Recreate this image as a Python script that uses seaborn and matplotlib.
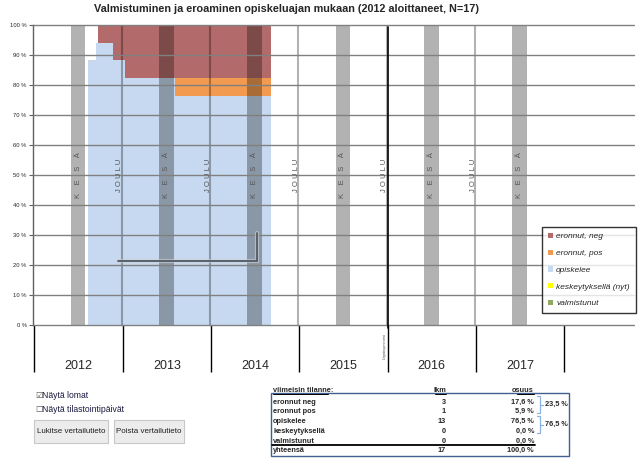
import numpy as np
import pandas as pd
import matplotlib
matplotlib.use('Agg')
import matplotlib.pyplot as plt
from matplotlib.patches import Patch, Rectangle
from matplotlib.lines import Line2D
import seaborn as sns

# --- data (luettu kuvasta) ---
N = 17
jakso_alku = ['2012-08-09', '2012-09-14', '2012-09-21', '2012-11-22', '2013-01-10', '2013-08-05']
jakso_loppu = '2014-09-05'
valmistunut = [0, 0, 0, 0, 0, 0]
keskeytyksella = [0, 0, 0, 0, 0, 0]
opiskelee = [15, 16, 16, 15, 14, 13]
eronnut_pos = [0, 0, 0, 0, 0, 1]
eronnut_neg = [0, 0, 1, 2, 3, 3]

vuodet = [2012, 2013, 2014, 2015, 2016, 2017]
kesa_alku = '06-01'
kesa_loppu = '07-31'
lapaisyminimi = '2016-01-01'
y_arvot = list(range(0, 101, 10))

sarjat = ['valmistunut', 'keskeytyksellä (nyt)', 'opiskelee', 'eronnut, pos', 'eronnut, neg']
varit = ['#8faa5c', '#ffff00', '#c6d9f0', '#f29b50', '#b36a6a']

sns.set_theme(style='white')
plt.rcParams['font.family'] = ['Liberation Sans', 'DejaVu Sans']

W, H = 638, 469


def fx(x):
    return x / W


def fy(y):
    return 1 - y / H


def dec_year(s):
    t = pd.Timestamp(s)
    alku = pd.Timestamp(year=t.year, month=1, day=1)
    return t.year + (t - alku).days / (366 if t.is_leap_year else 365)


fig = plt.figure(figsize=(W / 100, H / 100), dpi=100)
ax = fig.add_axes([fx(33), fy(325), 601 / W, 300 / H])

# pinottu porrasalue
reunat = [dec_year(d) for d in jakso_alku] + [dec_year(jakso_loppu)]
arvot = [valmistunut, keskeytyksella, opiskelee, eronnut_pos, eronnut_neg]
pohja = np.zeros(len(jakso_alku))
for vals, col in zip(arvot, varit):
    pct = np.array(vals) / N * 100
    y1 = np.append(pohja, pohja[-1])
    y2 = np.append(pohja + pct, (pohja + pct)[-1])
    ax.fill_between(reunat, y1, y2, step='post', color=col, lw=0, zorder=1)
    pohja = pohja + pct

# kesät ja joulut
for v in vuodet:
    a, b = dec_year(f'{v}-{kesa_alku}'), dec_year(f'{v}-{kesa_loppu}')
    ax.axvspan(a, b, color='black', alpha=0.3, lw=0, zorder=2)
    ax.text((a + b) / 2, 50, 'K    E    S    Ä', rotation=90, ha='center', va='center',
            fontsize=5.5, color='#555555', zorder=3)
for v in vuodet[1:]:
    ax.axvline(v - 0.008, color='black', alpha=0.3, lw=1.5, zorder=2)
    ax.text(v - 0.03, 50, 'J O U L U', rotation=90, ha='center', va='center',
            fontsize=5.5, color='#555555', zorder=3)

# läpäisyminimi
lx = dec_year(lapaisyminimi) + 0.006
ax.plot([lx, lx], [99.3, -1], color='black', lw=1.2, zorder=4, clip_on=False)
ax.text(lx - 0.035, -7, 'Läpäisyminimi', rotation=90, ha='center', va='center',
        fontsize=3, color='#555555', clip_on=False)

# varjoviiva
ax.plot([0.1414, 0.3727, 0.3727], [0.213, 0.213, 0.307], transform=ax.transAxes,
        color='#d0d0d0', lw=3, alpha=0.6, zorder=3, solid_joinstyle='miter')
ax.plot([0.1414, 0.3727, 0.3727], [0.213, 0.213, 0.307], transform=ax.transAxes,
        color='#505a66', lw=1.3, zorder=3, solid_joinstyle='miter')

# akselit
ax.set_xlim(2012 + (33 - 34.3) / 88.3, 2012 + (634 - 34.3) / 88.3)
ax.set_ylim(0, 100)
ax.set_xticks(vuodet + [vuodet[-1] + 1])
ax.set_xticklabels([])
ax.set_xticks([v + 0.5 for v in vuodet], minor=True)
ax.set_xticklabels([str(v) for v in vuodet], minor=True, fontsize=9)
ax.tick_params(axis='x', which='major', length=34, width=1, color='black', direction='out', bottom=True)
ax.tick_params(axis='x', which='minor', length=0, pad=25, bottom=True)
ax.set_yticks(y_arvot)
ax.set_yticklabels([f'{t} %' for t in y_arvot], fontsize=4.2)
ax.tick_params(axis='y', length=3, width=0.8, color='#606060', pad=1.5, left=True)
ax.yaxis.grid(True, color='#808080', lw=1, clip_on=False)
ax.xaxis.grid(False)
ax.set_axisbelow(False)
for s in ['top', 'right', 'bottom']:
    ax.spines[s].set_visible(False)
ax.spines['left'].set_color('#606060')
ax.spines['left'].set_linewidth(1)

fig.text(fx(286), fy(9), 'Valmistuminen ja eroaminen opiskeluajan mukaan (2012 aloittaneet, N=17)',
         ha='center', va='center', fontsize=7.8, fontweight='bold')

# selite
kahvat = [Patch(facecolor=c, edgecolor='none') for c in varit][::-1]
leg = fig.legend(kahvat, sarjat[::-1], loc='upper left', bbox_to_anchor=(fx(542), fy(227)),
                 borderaxespad=0, frameon=True, fancybox=False, prop={'style': 'italic', 'size': 6},
                 handlelength=0.6, handleheight=0.6, handletextpad=0.4, labelspacing=1.1,
                 borderpad=0.7)
leg.get_frame().set_edgecolor('black')
leg.get_frame().set_linewidth(1)
leg.get_frame().set_facecolor('white')

# valinnat ja painikkeet
fig.text(fx(35), fy(395), '☑', fontsize=6, va='center', family='DejaVu Sans', color='#555555')
fig.text(fx(42), fy(395), 'Näytä lomat', fontsize=6.2, va='center', color='#1a1a40')
fig.text(fx(35), fy(409), '☐', fontsize=6, va='center', family='DejaVu Sans', color='#555555')
fig.text(fx(42), fy(409), 'Näytä tilastointipäivät', fontsize=6.2, va='center', color='#1a1a40')
for x0, x1, teksti in [(34, 108, 'Lukitse vertailutieto'), (114, 184, 'Poista vertailutieto')]:
    fig.patches.append(Rectangle((fx(x0 + 1), fy(444)), (x1 - x0) / W, 23 / H, transform=fig.transFigure,
                                 facecolor='#8c8c8c', edgecolor='none'))
    fig.patches.append(Rectangle((fx(x0), fy(443)), (x1 - x0) / W, 23 / H, transform=fig.transFigure,
                                 facecolor='#ececec', edgecolor='#c8c8c8', lw=0.8))
    fig.text(fx((x0 + x1) / 2), fy(431.5), teksti, fontsize=5.8, ha='center', va='center', color='#202020')

# taulukko
rivit = [('eronnut neg', eronnut_neg[-1]), ('eronnut pos', eronnut_pos[-1]),
         ('opiskelee', opiskelee[-1]), ('keskeytyksellä', keskeytyksella[-1]),
         ('valmistunut', valmistunut[-1])]


def pros(n):
    return f'{n / N * 100:.1f}'.replace('.', ',') + ' %'


tfs = 5.3
fig.patches.append(Rectangle((fx(271), fy(456)), 298 / W, 63 / H, transform=fig.transFigure,
                             facecolor='none', edgecolor='#41608f', lw=1))
fig.text(fx(273), fy(390), 'viimeisin tilanne:', fontsize=tfs, va='center', fontweight='bold')
fig.text(fx(446), fy(390), 'lkm', fontsize=tfs, va='center', ha='right', fontweight='bold')
fig.text(fx(534), fy(390), 'osuus', fontsize=tfs, va='center', ha='right', fontweight='bold')
for x0, x1 in [(273, 328), (435, 446), (517, 534)]:
    fig.add_artist(Line2D([fx(x0), fx(x1)], [fy(393.5), fy(393.5)], color='black', lw=0.7))
rivi_y = [402, 411.7, 421.5, 431.3, 441]
for (nimi, n), y in zip(rivit, rivi_y):
    fig.text(fx(273), fy(y), nimi, fontsize=tfs, va='center', fontweight='bold')
    fig.text(fx(446), fy(y), str(n), fontsize=tfs, va='center', ha='right', fontweight='bold')
    fig.text(fx(534), fy(y), pros(n), fontsize=tfs, va='center', ha='right', fontweight='bold')
fig.add_artist(Line2D([fx(517), fx(534)], [fy(444), fy(444)], color='black', lw=0.7))
fig.add_artist(Line2D([fx(272), fx(535)], [fy(445), fy(445)], color='black', lw=1.3))
fig.text(fx(273), fy(450.5), 'yhteensä', fontsize=tfs, va='center', fontweight='bold')
fig.text(fx(446), fy(450.5), str(N), fontsize=tfs, va='center', ha='right', fontweight='bold')
fig.text(fx(534), fy(450.5), pros(N), fontsize=tfs, va='center', ha='right', fontweight='bold')

ryhmat = [(eronnut_neg[-1] + eronnut_pos[-1], 396, 413), (opiskelee[-1] + keskeytyksella[-1], 416, 433)]
for n, y0, y1 in ryhmat:
    ym = (y0 + y1) / 2
    fig.add_artist(Line2D([fx(537), fx(540), fx(540), fx(537)], [fy(y0), fy(y0), fy(y1), fy(y1)],
                          color='#8eb4e3', lw=0.9))
    fig.add_artist(Line2D([fx(540), fx(543)], [fy(ym), fy(ym)], color='#8eb4e3', lw=0.9))
    fig.text(fx(545), fy(ym), pros(n), fontsize=tfs, va='center', fontweight='bold')

fig.savefig('out.png', dpi=100)
